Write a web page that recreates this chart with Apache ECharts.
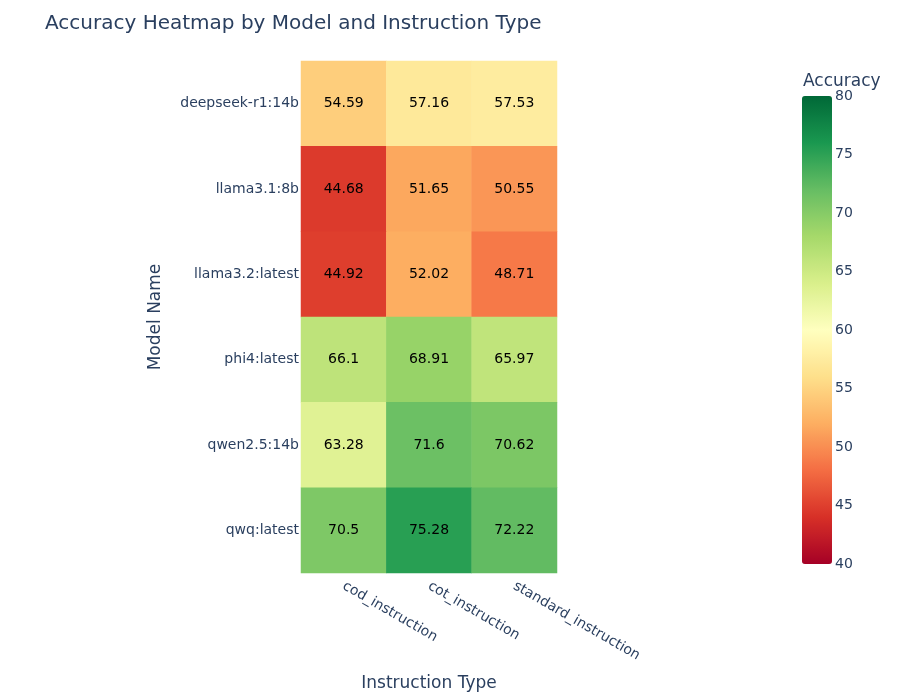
<!DOCTYPE html>
<html>
<head>
<meta charset="utf-8">
<script src="https://cdn.jsdelivr.net/npm/echarts@6/dist/echarts.min.js"></script>
<style>
  html, body { margin: 0; padding: 0; background: #fff; }
  #chartData { width: 900px; height: 700px; }
</style>
</head>
<body>
<div id="chartData"></div>
<script>
// 数据
var instructionTypes = ['cod_instruction', 'cot_instruction', 'standard_instruction'];
var modelNames = ['deepseek-r1:14b', 'llama3.1:8b', 'llama3.2:latest', 'phi4:latest', 'qwen2.5:14b', 'qwq:latest'];
// one row per model, columns follow instructionTypes
var accuracyRows = [
    [54.59, 57.16, 57.53],
    [44.68, 51.65, 50.55],
    [44.92, 52.02, 48.71],
    [66.1, 68.91, 65.97],
    [63.28, 71.6, 70.62],
    [70.5, 75.28, 72.22]
];
var colorbarTicks = [40, 45, 50, 55, 60, 65, 70, 75, 80];

// RdYlGn
var rdylgn = ['rgb(165,0,38)', 'rgb(215,48,39)', 'rgb(244,109,67)', 'rgb(253,174,97)',
    'rgb(254,224,139)', 'rgb(255,255,191)', 'rgb(217,239,139)', 'rgb(166,217,106)',
    'rgb(102,189,99)', 'rgb(26,152,80)', 'rgb(0,104,55)'];

var heatData = [];
for (var r = 0; r < accuracyRows.length; r++) {
    for (var c = 0; c < accuracyRows[r].length; c++) {
        heatData.push([c, r, accuracyRows[r][c]]);
    }
}

var textColor = '#2a3f5f';
var fontName = '"DejaVu Sans", Verdana, sans-serif';

var myChart = echarts.init(document.getElementById('chartData'));

var option = {
    textStyle: { fontFamily: fontName },
    animation: false,
    title: [{
        text: 'Accuracy Heatmap by Model and Instruction Type',
        left: 40,
        top: 9,
        textStyle: { fontFamily: fontName, fontSize: 20, fontWeight: 'normal', color: textColor }
    }, {
        text: 'Accuracy',
        left: 798,
        top: 68,
        textStyle: { fontFamily: fontName, fontSize: 17, fontWeight: 'normal', color: textColor }
    }],
    grid: [{
        left: 301, top: 61, width: 256, height: 512
    }, {
        left: 802, top: 96, width: 30, height: 468
    }],
    xAxis: [{
        type: 'category',
        gridIndex: 0,
        data: instructionTypes,
        name: 'Instruction Type',
        nameLocation: 'middle',
        nameGap: 102,
        nameTextStyle: { fontSize: 17, color: textColor },
        axisLine: { show: false },
        axisTick: { show: false },
        splitLine: { show: false },
        axisLabel: { rotate: -30, margin: 12, fontSize: 14, color: textColor, interval: 0 }
    }, {
        type: 'value',
        gridIndex: 1,
        show: false
    }],
    yAxis: [{
        type: 'category',
        gridIndex: 0,
        inverse: true,
        data: modelNames,
        name: 'Model Name',
        nameLocation: 'middle',
        nameGap: 137,
        nameRotate: 90,
        nameTextStyle: { fontSize: 17, color: textColor },
        axisLine: { show: false },
        axisTick: { show: false },
        splitLine: { show: false },
        axisLabel: { margin: 2, fontSize: 14, color: textColor }
    }, {
        // 色条刻度
        type: 'value',
        gridIndex: 1,
        position: 'right',
        min: colorbarTicks[0],
        max: colorbarTicks[colorbarTicks.length - 1],
        interval: 5,
        axisLine: { show: false },
        axisTick: { show: false },
        splitLine: { show: false },
        axisLabel: { margin: 3, fontSize: 14, color: textColor }
    }],
    visualMap: {
        type: 'continuous',
        min: 40,
        max: 80,
        calculable: false,
        realtime: false,
        showLabel: false,
        text: null,
        orient: 'vertical',
        left: 802,
        top: 96,
        itemWidth: 30,
        itemHeight: 468,
        padding: 0,
        seriesIndex: 0,
        inRange: { color: rdylgn }
    },
    series: [{
        type: 'heatmap',
        xAxisIndex: 0,
        yAxisIndex: 0,
        data: heatData,
        label: {
            show: true,
            color: '#000',
            fontSize: 14,
            fontFamily: fontName
        },
        itemStyle: { borderWidth: 0 },
        emphasis: { disabled: true }
    }]
};

myChart.setOption(option);
</script>
</body>
</html>
